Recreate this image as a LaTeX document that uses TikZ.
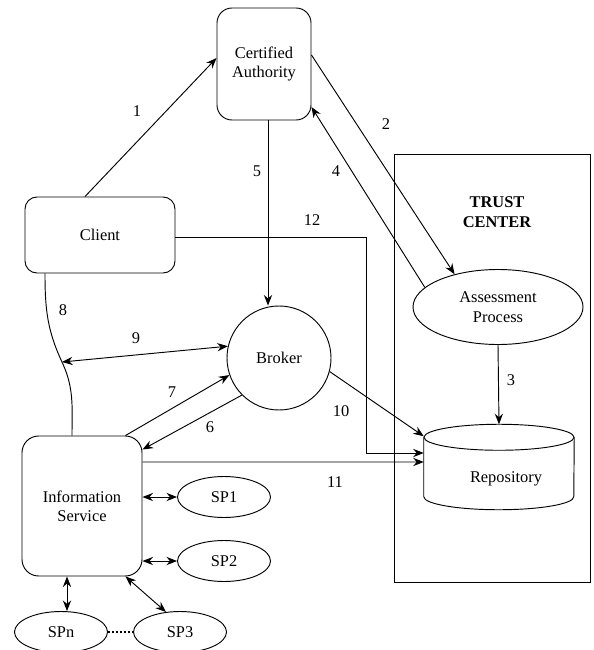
\documentclass[tikz,border=0pt]{standalone}
\usepackage{fontspec}
\setmainfont{Liberation Serif}
\usetikzlibrary{shapes,shapes.geometric,arrows.meta,positioning,calc}

\begin{document}
\begin{tikzpicture}[
    x=0.03cm, y=-0.03cm,
    font=\fontsize{14}{16.5}\selectfont,
    box/.style={rectangle, draw, rounded corners=0.45cm, line width=0.8pt, align=center, inner sep=0pt},
    sp/.style={ellipse, draw, line width=0.8pt, minimum width=2.79cm, minimum height=1.23cm, inner sep=0pt},
    lbl/.style={inner sep=1pt},
    link/.style={->, >={Stealth[length=9pt, width=7pt]}, line width=0.8pt},
    dlink/.style={<->, >={Stealth[length=9pt, width=7pt]}, line width=0.8pt}
]
    \useasboundingbox (0,0) rectangle (593,650);

    % Trust center
    \node[draw, line width=0.8pt, minimum width=5.88cm, minimum height=12.84cm] (trust) at (492,368) {};
    \node[align=center, font=\fontsize{14}{16.5}\selectfont\bfseries] (trusttxt) at (497,212) {TRUST\\CENTER};
    \node[ellipse, draw, line width=0.8pt, minimum width=5.1cm, minimum height=2.25cm, align=center, inner sep=0pt] (assess) at (498,307) {Assessment\\Process};
    % repository drum
    \node[minimum width=4.5cm, minimum height=2.55cm, inner sep=0pt] (repo) at (499,467) {};
    \draw[line width=0.8pt] ([yshift=-0.39cm]repo.north) ellipse [x radius=2.25cm, y radius=0.39cm];
    \draw[line width=0.8pt] ([yshift=-0.39cm]repo.north west) -- ([yshift=0.39cm]repo.south west)
        arc[start angle=180, end angle=360, x radius=2.25cm, y radius=0.39cm] -- ([yshift=-0.39cm]repo.north east);
    \node (repotxt) at (506,479) {Repository};

    % Main blocks
    \node[box, minimum width=2.82cm, minimum height=3.36cm] (ca) at (264,64) {Certified\\Authority};
    \node[box, rounded corners=0.36cm, minimum width=4.5cm, minimum height=2.28cm] (client) at (100,235) {Client};
    \node[circle, draw, line width=0.8pt, minimum size=3.12cm, inner sep=0pt] (broker) at (279,358) {Broker};
    \node[box, rounded corners=0.5cm, minimum width=3.6cm, minimum height=4.2cm] (info) at (82,506) {Information\\Service};

    % Service providers
    \node[sp] (sp1) at (224,497) {SP1};
    \node[sp] (sp2) at (224,561) {SP2};
    \node[sp] (sp3) at (180,632) {SP3};
    \node[sp] (spn) at (61,632) {SPn};

    % Connectors
    \draw[link] ([xshift=-0.45cm]client.north) -- ([yshift=0.18cm]ca.west);
    \draw[link] ([yshift=0.27cm]ca.east) -- (assess.143);
    \draw[link] (assess.south) -- (repo.north);
    \draw[link] (assess.165) -- ([yshift=-1.29cm]ca.east);
    \draw[link] ([xshift=0.12cm]ca.south) -- ([xshift=0.12cm]ca.south |- broker.north);
    \draw[link] (broker.225) -- ([yshift=-0.42cm]info.north east);
    \draw[link] ([xshift=-0.51cm]info.north east) -- (broker.199);
    \coordinate (join) at (62,362);
    \draw[line width=0.8pt] ([xshift=-1.65cm]client.south) to[out=-90, in=115] (join) to[out=-65, in=90] ([xshift=-0.3cm]info.north);
    \draw[dlink] (join) -- (broker.167);
    \draw[link] (broker.-15) -- ([yshift=-0.36cm]repo.north west);
    \coordinate (bend) at (366,237);
    \draw[link] (client.east |- bend) -- (bend) |- ([yshift=0.42cm]repo.west);
    \draw[link] ([yshift=1.32cm]info.east) -- ([yshift=0.15cm]repo.west);
    \draw[dlink] (info.east |- sp1.west) -- (sp1.west);
    \draw[dlink] (info.east |- sp2.west) -- (sp2.west);
    \draw[dlink] ([xshift=0.18cm]spn.north |- info.south) -- ([xshift=0.18cm]spn.north);
    \draw[dlink] ([xshift=-0.51cm]info.south east) -- (sp3.125);
    \draw[line width=1.4pt, dotted] (spn.east) -- (sp3.west);

    % Labels
    \node[lbl] (n1) at (137,111) {1};
    \node[lbl] (n2) at (386,124) {2};
    \node[lbl] (n3) at (511,380) {3};
    \node[lbl] (n4) at (336,171) {4};
    \node[lbl] (n5) at (257,171) {5};
    \node[lbl] (n6) at (210,427) {6};
    \node[lbl] (n7) at (172,392) {7};
    \node[lbl] (n8) at (63,310) {8};
    \node[lbl] (n9) at (136,338) {9};
    \node[lbl] (n10) at (341,411) {10};
    \node[lbl] (n11) at (335,482) {11};
    \node[lbl] (n12) at (312,220) {12};
\end{tikzpicture}
\end{document}
